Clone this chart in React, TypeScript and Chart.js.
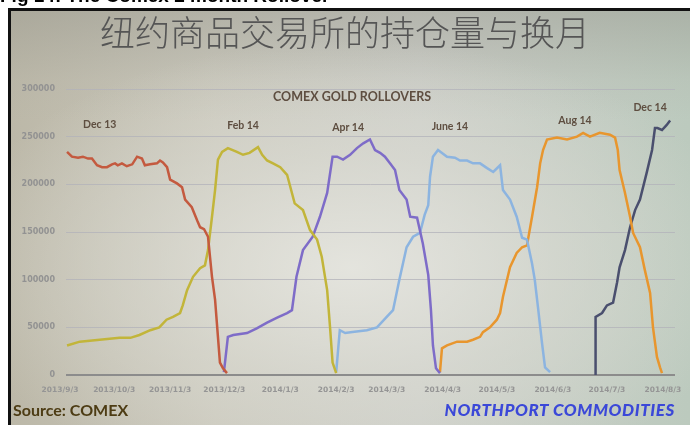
import React, { useEffect, useRef } from "react";
import { Chart, registerables } from "chart.js";

Chart.register(...registerables);

// ---------- data (x = days since 2013/9/3, y = open interest) ----------
const dec13Days = [3.9, 6.6, 10, 12.7, 15.5, 17.7, 20.5, 23.3, 26, 28.8, 30.5, 32, 34.3, 37, 40, 42.7, 45.4, 47, 49.9, 53.7, 55.4, 57, 59.3, 61, 64.8, 67.6, 69.3, 73, 76, 77.6, 79.8, 82, 84.2, 85.9, 87.5, 88.6, 90.3, 92.5];
const dec13Values = [234000, 229000, 228000, 229000, 227000, 227000, 220000, 218000, 218000, 221000, 222000, 220000, 222000, 219000, 221000, 229000, 227000, 220000, 221000, 222000, 225000, 223000, 218000, 205000, 201000, 197000, 184000, 176000, 162000, 155000, 153000, 145000, 103000, 79000, 40000, 13000, 7000, 2000];

const feb14Days = [3.9, 11, 22, 33, 39, 44, 50, 55, 59, 62.6, 66.5, 68, 70.4, 73.7, 77.6, 80.3, 82, 84.2, 85.9, 87.5, 89.8, 93, 98, 101.4, 105, 109.7, 112, 114.7, 118, 122, 125.8, 130, 134.6, 138.5, 142.4, 145, 148, 149.6, 151, 153];
const feb14Values = [31000, 35000, 37000, 39000, 39000, 42000, 47000, 50000, 58000, 61000, 65000, 73000, 89000, 103000, 112000, 115000, 131000, 166000, 194000, 226000, 234000, 238000, 234000, 231000, 233000, 239000, 231000, 225000, 222000, 218000, 210000, 180000, 173000, 152000, 142000, 124000, 89000, 50000, 13000, 2000];

const apr14Days = [90.8, 93, 96, 103.6, 109, 114.7, 120, 125.8, 128.5, 131, 134.6, 140, 144, 148, 151, 153.5, 156.8, 160.7, 164.5, 168, 171.7, 174.5, 177.3, 180, 182.8, 185.6, 188, 192, 194, 197.8, 201, 204, 205.5, 206.6, 208.3, 210.5];
const apr14Values = [3000, 40000, 42000, 44000, 49000, 55000, 60000, 65000, 68000, 103000, 131000, 145000, 166000, 191000, 229000, 229000, 226000, 231000, 238000, 243000, 247000, 236000, 233000, 229000, 222000, 215000, 194000, 184000, 166000, 165000, 138000, 105000, 68000, 31000, 7000, 2000];

const jun14Days = [153, 155, 158, 162, 170, 175.6, 181, 184.5, 188, 192, 195.6, 199.4, 202, 204, 205, 206.6, 209.4, 214.4, 218.8, 221.6, 225.5, 228.8, 232.7, 236.6, 240, 243.8, 245.4, 249.3, 253, 256, 258.7, 261.5, 263, 264.8, 267, 268.7, 271.5];
const jun14Values = [3000, 47000, 44000, 45000, 47000, 50000, 61000, 68000, 100000, 134000, 145000, 149000, 168000, 178000, 208000, 229000, 236000, 229000, 228000, 225000, 225000, 222000, 222000, 217000, 213000, 220000, 194000, 184000, 166000, 144000, 142000, 117000, 100000, 71000, 34000, 8000, 3000];

const aug14Days = [210.5, 211.6, 214.4, 220, 225.5, 228.8, 232.7, 234.3, 238.2, 242, 243.8, 245.4, 249.3, 253, 256, 258.7, 261.5, 264.3, 266, 267.6, 269.8, 275.3, 280.9, 286.4, 289.8, 293.6, 299, 304.7, 307.5, 309, 310, 313, 315.8, 317.5, 321.3, 324, 326.9, 328.5, 330.7, 332.4, 333.5];
const aug14Values = [3000, 28000, 31000, 35000, 35000, 37000, 40000, 45000, 50000, 58000, 65000, 82000, 113000, 128000, 134000, 136000, 166000, 197000, 222000, 236000, 247000, 249000, 247000, 250000, 254000, 250000, 254000, 252000, 249000, 236000, 215000, 191000, 166000, 149000, 134000, 110000, 86000, 50000, 19000, 8000, 2000];

const dec14Days = [296.4, 296.7, 300.3, 303, 306.4, 308.6, 310, 313, 315.8, 318.6, 321.3, 325, 328, 329.6, 331, 333.5, 336, 338];
const dec14Values = [0, 61000, 65000, 73000, 76000, 97000, 113000, 131000, 155000, 173000, 184000, 212000, 236000, 259000, 259000, 257000, 262000, 267000];

const seriesNames = ["Dec 13", "Feb 14", "Apr 14", "June 14", "Aug 14", "Dec 14"];
const seriesColors = ["#c45a3f", "#c2b53a", "#7e6cc8", "#8cb4e0", "#e8962e", "#4a4f6e"];
const seriesDays = [dec13Days, feb14Days, apr14Days, jun14Days, aug14Days, dec14Days];
const seriesValues = [dec13Values, feb14Values, apr14Values, jun14Values, aug14Values, dec14Values];

// contract labels placed in data space
const labelDays = [22, 101.4, 159.6, 216, 285.3, 326.9];
const labelValues = [263000, 262000, 260000, 261000, 267000, 280000];

const chartHeading = "COMEX GOLD ROLLOVERS";
const headingDay = 161.8;
const headingValue = 291600;

const xTickDays = [0, 30, 61, 91, 122, 153, 181, 212, 242, 273, 303, 334];
const xTickLabels = ["2013/9/3", "2013/10/3", "2013/11/3", "2013/12/3", "2014/1/3", "2014/2/3", "2014/3/3", "2014/4/3", "2014/5/3", "2014/6/3", "2014/7/3", "2014/8/3"];
const yTicks = [0, 50000, 100000, 150000, 200000, 250000, 300000];

const xMin = 3.32;
const xMax = 340.7;

const textPlugin = {
  id: "slideTexts",
  afterDatasetsDraw(chart: any) {
    const { ctx } = chart;
    const x = chart.scales.x;
    const y = chart.scales.y;
    ctx.save();
    ctx.textAlign = "center";
    ctx.textBaseline = "middle";
    // x-axis date labels
    ctx.fillStyle = "#959595";
    ctx.font = 'bold 7.5px "DejaVu Sans"';
    const base = y.getPixelForValue(0);
    xTickDays.forEach((d, i) => {
      ctx.fillText(xTickLabels[i], x.getPixelForValue(d), base + 15);
    });
    // heading
    ctx.fillStyle = "#5e4e40";
    ctx.font = 'bold 12.5px Lato';
    ctx.fillText(chartHeading, x.getPixelForValue(headingDay), y.getPixelForValue(headingValue));
    // contract labels
    ctx.font = 'bold 10.5px Lato';
    ctx.fillStyle = "#5e4e40";
    seriesNames.forEach((n, i) => {
      ctx.fillText(n, x.getPixelForValue(labelDays[i]), y.getPixelForValue(labelValues[i]));
    });
    ctx.restore();
  },
};

export default function App() {
  const ref = useRef<HTMLCanvasElement | null>(null);

  useEffect(() => {
    if (!ref.current) return;
    const chart = new Chart(ref.current, {
      type: "line",
      data: {
        datasets: seriesNames.map((name, i) => ({
          label: name,
          data: seriesDays[i].map((d, j) => ({ x: d, y: seriesValues[i][j] })),
          borderColor: seriesColors[i],
          backgroundColor: seriesColors[i],
          borderWidth: 2.5,
          pointRadius: 0,
          tension: 0,
          fill: false,
        })),
      },
      options: {
        responsive: false,
        animation: false,
        layout: { padding: { top: 89, bottom: 50, left: 0, right: 15 } },
        plugins: {
          legend: { display: false },
          tooltip: { enabled: false },
          title: { display: false },
        },
        scales: {
          x: { type: "linear", min: xMin, max: xMax, display: false },
          y: {
            min: 0,
            max: 300000,
            afterFit: (s: any) => {
              s.width = 66;
            },
            afterBuildTicks: (s: any) => {
              s.ticks = yTicks.map((v) => ({ value: v }));
            },
            border: { display: false },
            grid: {
              drawTicks: false,
              color: (c: any) => (c.tick && c.tick.value === 0 ? "#8c8c8c" : "rgba(178,178,186,0.75)"),
              lineWidth: (c: any) => (c.tick && c.tick.value === 0 ? 2 : 1),
            },
            ticks: {
              padding: 11,
              color: "#929292",
              font: { size: 8, family: "DejaVu Sans", weight: "bold" },
              callback: (v: any) => String(v),
            },
          },
        },
      },
      plugins: [textPlugin],
    });
    return () => chart.destroy();
  }, []);

  return (
    <>
      <div
        style={{
          position: "fixed",
          left: 0,
          top: -14,
          font: "bold 19px 'Liberation Sans', Arial, sans-serif",
          color: "#000",
          whiteSpace: "nowrap",
          lineHeight: "19px",
        }}
      >
        Fig 14: The Comex 2 month Rollover
      </div>
      <div
        style={{
          position: "fixed",
          left: 8,
          top: 8,
          right: 0,
          bottom: 0,
          borderLeft: "3px solid #111",
          borderTop: "3px solid #111",
          background:
            "radial-gradient(ellipse 60% 55% at 50% 62%, rgba(232,232,226,0.85) 0%, rgba(222,222,214,0.55) 50%, rgba(210,210,200,0) 100%), linear-gradient(to bottom, rgba(150,150,140,0.45) 0px, rgba(170,170,160,0.15) 70px, rgba(200,200,190,0) 110px), linear-gradient(to right, #bcb8a8 0%, #cac8bc 30%, #cccec8 60%, #bccabe 100%)",
        }}
      />
      <div
        style={{
          position: "fixed",
          left: 0,
          top: 12,
          width: 690,
          textAlign: "center",
          font: "35px 'Noto Sans CJK SC', sans-serif",
          color: "#555555",
          lineHeight: "38px",
          fontWeight: 300,
        }}
      >
        纽约商品交易所的持仓量与换月
      </div>
      <canvas
        ref={ref}
        width={690}
        height={425}
        style={{ position: "fixed", left: 0, top: 0, width: 690, height: 425 }}
      />
      <div
        style={{
          position: "fixed",
          left: 13,
          top: 400,
          font: "bold 16px Lato, sans-serif",
          color: "#4d3c14",
          lineHeight: "20px",
        }}
      >
        Source: COMEX
      </div>
      <div
        style={{
          position: "fixed",
          right: 15,
          top: 400,
          font: "italic 900 17px Lato, sans-serif",
          color: "#3b48d8",
          lineHeight: "20px",
          letterSpacing: "0.6px",
          whiteSpace: "nowrap",
        }}
      >
        NORTHPORT COMMODITIES
      </div>
    </>
  );
}
